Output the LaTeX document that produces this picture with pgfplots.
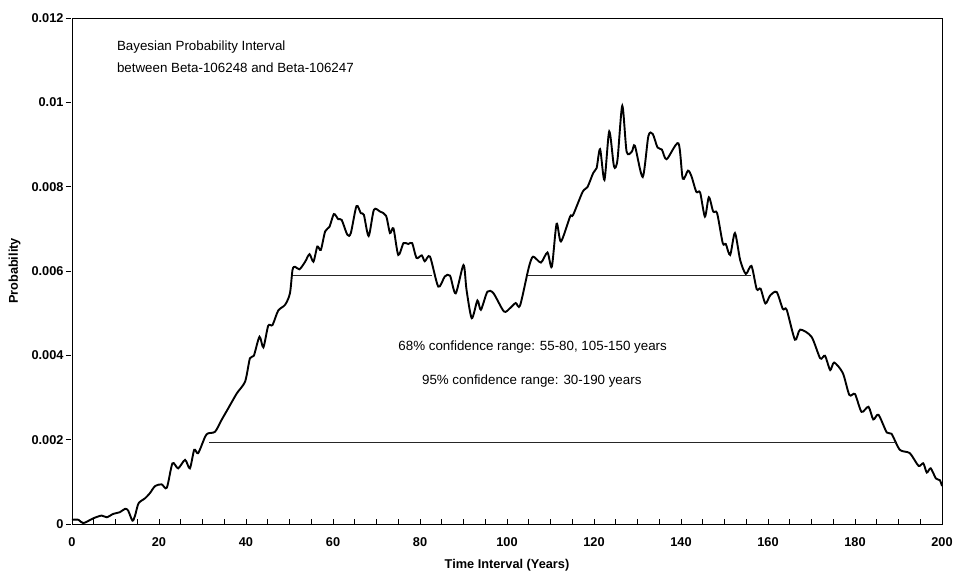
\documentclass[border=0pt]{standalone}
\usepackage{fontspec}
\setmainfont{Liberation Sans}
\usepackage{pgfplots}
\pgfplotsset{compat=1.18}
\begin{document}
\begin{tikzpicture}
\begin{axis}[
  scale only axis,
  width=870bp, height=506bp,
  xmin=0, xmax=200, ymin=0, ymax=0.012,
  axis line style={line width=0.8bp, black},
  xtick={0,20,...,200},
  xticklabels={0,20,40,60,80,100,120,140,160,180,200},
  minor xtick={0,5,...,200},
  ytick={0,0.002,0.004,0.006,0.008,0.010,0.012},
  yticklabels={0,0.002,0.004,0.006,0.008,0.01,0.012},
  scaled y ticks=false,
  xtick pos=bottom, ytick pos=left,
  tick align=inside,
  major tick length=5bp, minor tick length=5bp,
  every tick/.style={black, line width=0.7bp},
  y tick style={xshift=-6bp},
  ticklabel style={font=\bfseries\fontsize{12.8}{14}\selectfont},
  xticklabel style={yshift=-10bp},
  yticklabel style={xshift=-5bp},
  xlabel={Time Interval (Years)},
  ylabel={Probability},
  label style={font=\bfseries\fontsize{12.8}{14}\selectfont},
  xlabel style={at={(axis description cs:0.5,-0.081)}, anchor=center},
  ylabel style={at={(axis description cs:-0.066,0.5)}, anchor=center},
  clip=false,
]
\addplot[black, line width=1.9bp, smooth, tension=0.45] coordinates {
(0,0.0001) (1.5,0.0001) (2.6,0.00002) (4.9,0.000135) (6.8,0.0002) (8.0,0.00016)
(9.5,0.00024) (11.0,0.00028) (12.2,0.00036) (12.9,0.00032) (13.9,0.00008) (14.5,0.0002)
(15.3,0.00049) (16.8,0.00061) (17.9,0.00073) (19.1,0.0009) (20.6,0.00094) (21.8,0.00086)
(23.1,0.00144) (24.4,0.00132) (26.0,0.00152) (27.1,0.00132) (28.1,0.00176) (29.0,0.00168)
(30.6,0.00207) (31.3,0.00215) (32.9,0.00219) (34.4,0.00247) (35.9,0.00274) (37.9,0.0031)
(39.8,0.00338) (40.9,0.00393) (41.8,0.00399) (43.1,0.00444) (44.0,0.00419) (45.1,0.0047)
(46.1,0.00472) (47.4,0.00506) (49.0,0.0052) (50.1,0.00547) (50.7,0.00603) (51.3,0.0061)
(52.3,0.00604) (53.6,0.00622) (54.6,0.0064) (55.5,0.00622) (56.4,0.00658) (57.2,0.0065)
(58.2,0.00694) (59.2,0.00705) (60.2,0.00735) (61.2,0.00723) (62.0,0.00721) (63.3,0.00686)
(64.1,0.0069) (65.4,0.00754) (66.4,0.00737) (67.1,0.00733) (68.2,0.00683) (69.4,0.00745)
(70.8,0.00741) (72.2,0.00731) (73.1,0.0069) (73.9,0.00701) (75.0,0.00638) (76.2,0.00666)
(77.3,0.00664) (78.2,0.00666) (79.2,0.00631) (80.4,0.00637) (81.1,0.00623) (82.3,0.00634)
(84.2,0.00563) (85.7,0.00587) (86.9,0.00589) (88.2,0.00547) (90.0,0.00614) (90.7,0.00555)
(91.9,0.00488) (93.2,0.0053) (94.0,0.00508) (95.5,0.00551) (96.9,0.00547) (99.3,0.00504)
(100.7,0.00512) (102.0,0.00524) (103.0,0.00518) (105.0,0.00608) (106.0,0.00634) (107.8,0.0062)
(109.3,0.00644) (110.3,0.0061) (111.4,0.00712) (112.4,0.0067) (114.5,0.00729) (115.2,0.00733)
(117.4,0.00788) (118.5,0.00799) (119.8,0.00832) (120.6,0.00844) (121.4,0.00889) (122.4,0.00816)
(123.5,0.00931) (124.6,0.00848) (125.4,0.00864) (126.5,0.00992) (127.5,0.00883) (128.7,0.00883)
(129.4,0.00897) (131.2,0.00823) (132.5,0.0092) (133.5,0.00925) (134.6,0.00893) (135.6,0.00888)
(136.7,0.00865) (139.4,0.00903) (140.4,0.00819) (141.6,0.00838) (142.4,0.00825) (143.5,0.00788)
(144.4,0.00786) (145.5,0.00729) (146.4,0.00775) (147.4,0.00741) (148.3,0.00737) (149.6,0.00666)
(150.3,0.00664) (151.3,0.00638) (152.4,0.0069) (153.6,0.00626) (154.9,0.00593) (156.2,0.00612)
(157.4,0.00557) (158.3,0.00558) (159.4,0.00523) (160.5,0.00542) (162.0,0.0055) (163.4,0.0051)
(164.3,0.00508) (166.2,0.00437) (167.4,0.00461) (170.0,0.00444) (172.0,0.00393) (173.1,0.00399)
(174.3,0.00365) (175.2,0.00383) (177.2,0.00358) (178.7,0.00306) (180.0,0.00308) (181.5,0.00266)
(183.1,0.00278) (184.2,0.00248) (185.4,0.00259) (187.3,0.00217) (188.4,0.00214) (190.3,0.00176)
(192.6,0.00168) (194.6,0.00138) (195.7,0.00144) (196.5,0.00122) (197.4,0.00132) (198.6,0.00108)
(199.5,0.00104) (200,0.0009)
};
\addplot[black!85, line width=1.2bp] coordinates {(50.9,0.00589) (82.7,0.00589)};
\addplot[black!85, line width=1.2bp] coordinates {(104.9,0.00589) (156.2,0.00589)};
\addplot[black!85, line width=1.2bp] coordinates {(31.6,0.00194) (189.4,0.00194)};
\node[anchor=west, font=\fontsize{13.4}{15}\selectfont, inner sep=0pt] at (axis cs:10.3,0.01130) {Bayesian Probability Interval};
\node[anchor=west, font=\fontsize{13.4}{15}\selectfont, inner sep=0pt] at (axis cs:10.3,0.01082) {between Beta-106248 and Beta-106247};
\node[anchor=center, font=\fontsize{13.4}{15}\selectfont, inner sep=0pt] at (axis cs:105.9,0.004207) {68\% confidence range: 55-80, 105-150 years};
\node[anchor=center, font=\fontsize{13.4}{15}\selectfont, inner sep=0pt] at (axis cs:105.7,0.003393) {95\% confidence range: 30-190 years};
\end{axis}
\pgfresetboundingbox
\path (-72bp,-49bp) rectangle (883bp,524bp);
\end{tikzpicture}
\end{document}
